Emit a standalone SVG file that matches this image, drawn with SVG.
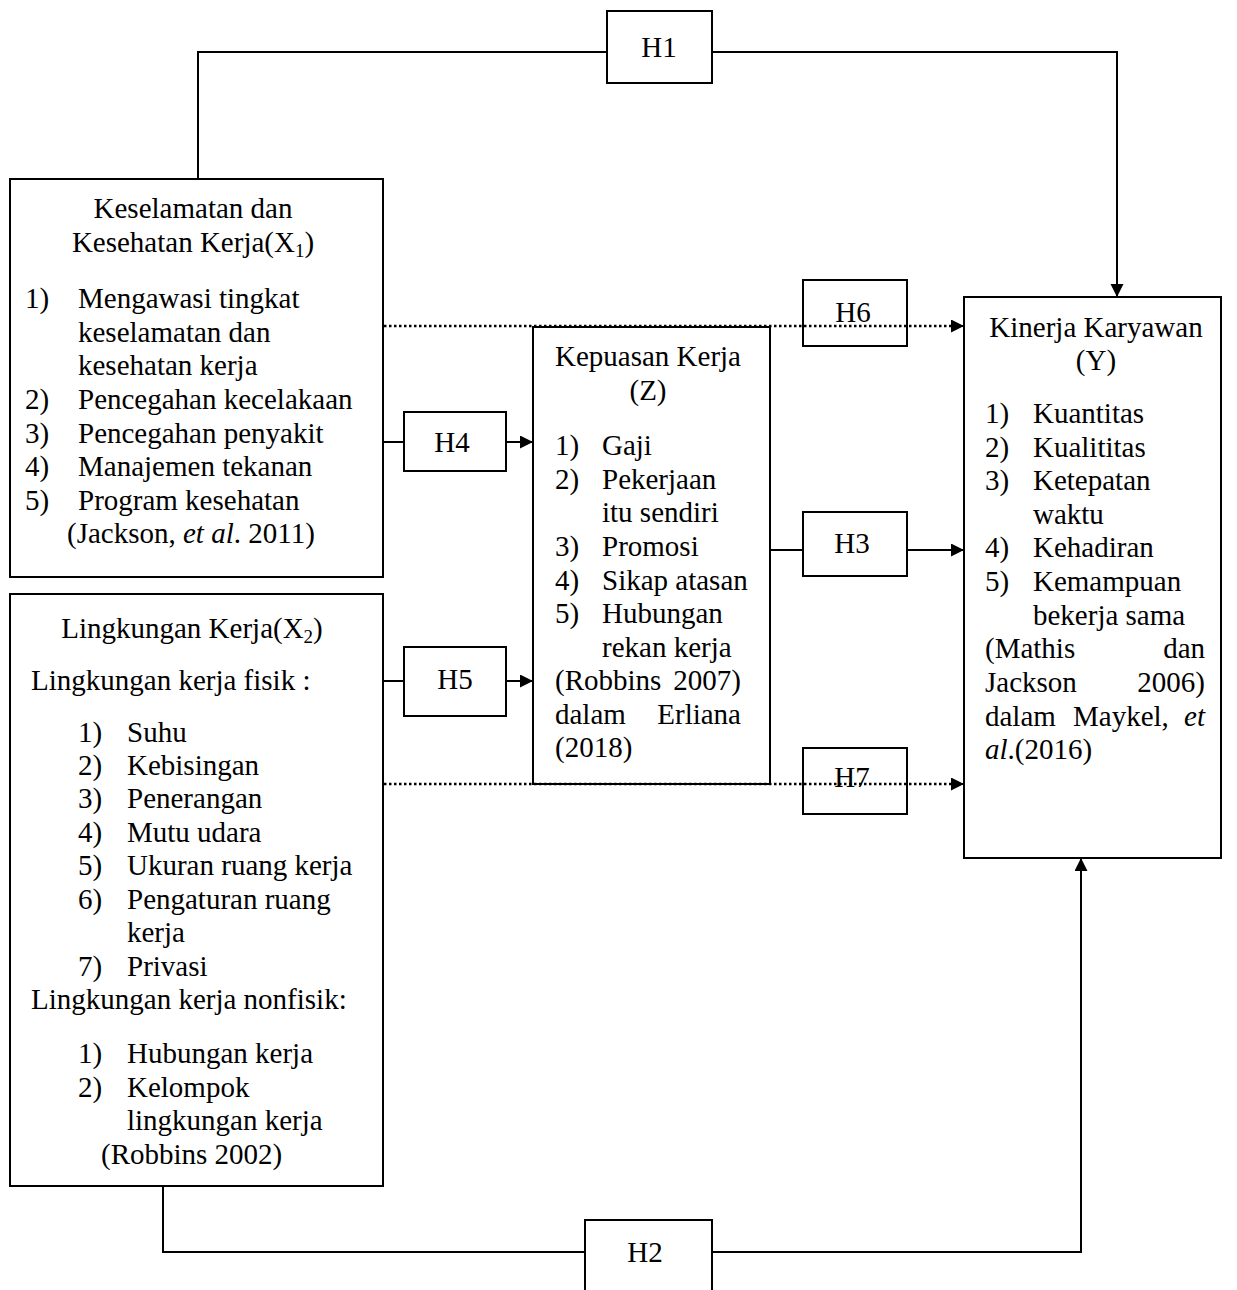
<svg xmlns="http://www.w3.org/2000/svg" width="1237" height="1290" viewBox="0 0 1237 1290">
<style>
text{font-family:"Liberation Serif","Times New Roman",serif;font-size:29px;fill:#000}
.box{fill:none;stroke:#000;stroke-width:2}
.ln{fill:none;stroke:#000;stroke-width:2}
.dot{fill:none;stroke:#000;stroke-width:2.5;stroke-dasharray:2.5 2.5}
.c{text-anchor:middle}
.e{text-anchor:end}
.i{font-style:italic}
</style>
<defs>
<marker id="ar" markerUnits="userSpaceOnUse" markerWidth="14" markerHeight="14" refX="13" refY="6.5" orient="auto">
<path d="M0,0 L13,6.5 L0,13 z" fill="#000"/>
</marker>
</defs>
<rect width="1237" height="1290" fill="#fff"/>

<g id="connectors">
<polyline class="ln" points="198,178 198,52 607,52"/>
<polyline class="ln" points="712,52 1117,52 1117,297" marker-end="url(#ar)"/>
<polyline class="ln" points="163,1186 163,1252 585,1252"/>
<polyline class="ln" points="712,1252 1081,1252 1081,858" marker-end="url(#ar)"/>
<line class="ln" x1="383" y1="442" x2="404" y2="442"/>
<line class="ln" x1="506" y1="442" x2="533" y2="442" marker-end="url(#ar)"/>
<line class="ln" x1="383" y1="681" x2="404" y2="681"/>
<line class="ln" x1="506" y1="681" x2="533" y2="681" marker-end="url(#ar)"/>
<line class="ln" x1="770" y1="550" x2="803" y2="550"/>
<line class="ln" x1="907" y1="550" x2="964" y2="550" marker-end="url(#ar)"/>
<line class="dot" x1="384" y1="326" x2="952" y2="326"/>
<line class="ln" x1="951" y1="326" x2="964" y2="326" marker-end="url(#ar)"/>
<line class="dot" x1="384" y1="784" x2="952" y2="784"/>
<line class="ln" x1="951" y1="784" x2="964" y2="784" marker-end="url(#ar)"/>
</g>

<g id="x1">
<rect class="box" x="10" y="179" width="373" height="398"/>
<text class="c" x="193" y="218">Keselamatan dan</text>
<text class="c" x="193" y="252">Kesehatan Kerja(X<tspan font-size="19" dy="5">1</tspan><tspan dy="-5">)</tspan></text>
<text x="25" y="308">1)</text><text x="78" y="308">Mengawasi tingkat</text>
<text x="78" y="342">keselamatan dan</text>
<text x="78" y="375">kesehatan kerja</text>
<text x="25" y="409">2)</text><text x="78" y="409">Pencegahan kecelakaan</text>
<text x="25" y="443">3)</text><text x="78" y="443">Pencegahan penyakit</text>
<text x="25" y="476">4)</text><text x="78" y="476">Manajemen tekanan</text>
<text x="25" y="510">5)</text><text x="78" y="510">Program kesehatan</text>
<text x="67" y="543">(Jackson, <tspan class="i">et al</tspan>. 2011)</text>
</g>

<g id="x2">
<rect class="box" x="10" y="594" width="373" height="592"/>
<text class="c" x="192" y="638">Lingkungan Kerja(X<tspan font-size="19" dy="5">2</tspan><tspan dy="-5">)</tspan></text>
<text x="31" y="690">Lingkungan kerja fisik :</text>
<text x="78" y="742">1)</text><text x="127" y="742">Suhu</text>
<text x="78" y="775">2)</text><text x="127" y="775">Kebisingan</text>
<text x="78" y="808">3)</text><text x="127" y="808">Penerangan</text>
<text x="78" y="842">4)</text><text x="127" y="842">Mutu udara</text>
<text x="78" y="875">5)</text><text x="127" y="875">Ukuran ruang kerja</text>
<text x="78" y="909">6)</text><text x="127" y="909">Pengaturan ruang</text>
<text x="127" y="942">kerja</text>
<text x="78" y="976">7)</text><text x="127" y="976">Privasi</text>
<text x="31" y="1009">Lingkungan kerja nonfisik:</text>
<text x="78" y="1063">1)</text><text x="127" y="1063">Hubungan kerja</text>
<text x="78" y="1097">2)</text><text x="127" y="1097">Kelompok</text>
<text x="127" y="1130">lingkungan kerja</text>
<text x="101" y="1164">(Robbins 2002)</text>
</g>

<g id="z">
<rect class="box" x="533" y="327" width="237" height="457"/>
<text class="c" x="648" y="366">Kepuasan Kerja</text>
<text class="c" x="648" y="400">(Z)</text>
<text x="555" y="455">1)</text><text x="602" y="455">Gaji</text>
<text x="555" y="489">2)</text><text x="602" y="489">Pekerjaan</text>
<text x="602" y="522">itu sendiri</text>
<text x="555" y="556">3)</text><text x="602" y="556">Promosi</text>
<text x="555" y="590">4)</text><text x="602" y="590">Sikap atasan</text>
<text x="555" y="623">5)</text><text x="602" y="623">Hubungan</text>
<text x="602" y="657">rekan kerja</text>
<text x="555" y="690">(Robbins</text><text class="e" x="741" y="690">2007)</text>
<text x="555" y="724">dalam</text><text class="e" x="741" y="724">Erliana</text>
<text x="555" y="757">(2018)</text>
</g>

<g id="y">
<rect class="box" x="964" y="297" width="257" height="561"/>
<text class="c" x="1096" y="337">Kinerja Karyawan</text>
<text class="c" x="1096" y="370">(Y)</text>
<text x="985" y="423">1)</text><text x="1033" y="423">Kuantitas</text>
<text x="985" y="457">2)</text><text x="1033" y="457">Kualititas</text>
<text x="985" y="490">3)</text><text x="1033" y="490">Ketepatan</text>
<text x="1033" y="524">waktu</text>
<text x="985" y="557">4)</text><text x="1033" y="557">Kehadiran</text>
<text x="985" y="591">5)</text><text x="1033" y="591">Kemampuan</text>
<text x="1033" y="625">bekerja sama</text>
<text x="985" y="658">(Mathis</text><text class="e" x="1205" y="658">dan</text>
<text x="985" y="692">Jackson</text><text class="e" x="1205" y="692">2006)</text>
<text x="985" y="726">dalam</text><text x="1073" y="726">Maykel,</text><text class="e i" x="1205" y="726">et</text>
<text x="985" y="759"><tspan class="i">al</tspan>.(2016)</text>
</g>

<g id="h1"><rect class="box" x="607" y="11" width="105" height="72"/><text class="c" x="659" y="57">H1</text></g>
<g id="h2"><rect class="box" x="585" y="1220" width="127" height="80"/><text class="c" x="645" y="1262">H2</text></g>
<g id="h3"><rect class="box" x="803" y="512" width="104" height="64"/><text class="c" x="852" y="553">H3</text></g>
<g id="h4"><rect class="box" x="404" y="412" width="102" height="59"/><text class="c" x="452" y="452">H4</text></g>
<g id="h5"><rect class="box" x="404" y="647" width="102" height="69"/><text class="c" x="455" y="689">H5</text></g>
<g id="h6"><rect class="box" x="803" y="280" width="104" height="66"/><text class="c" x="853" y="322">H6</text></g>
<g id="h7"><rect class="box" x="803" y="748" width="104" height="66"/><text class="c" x="852" y="787">H7</text></g>
</svg>
